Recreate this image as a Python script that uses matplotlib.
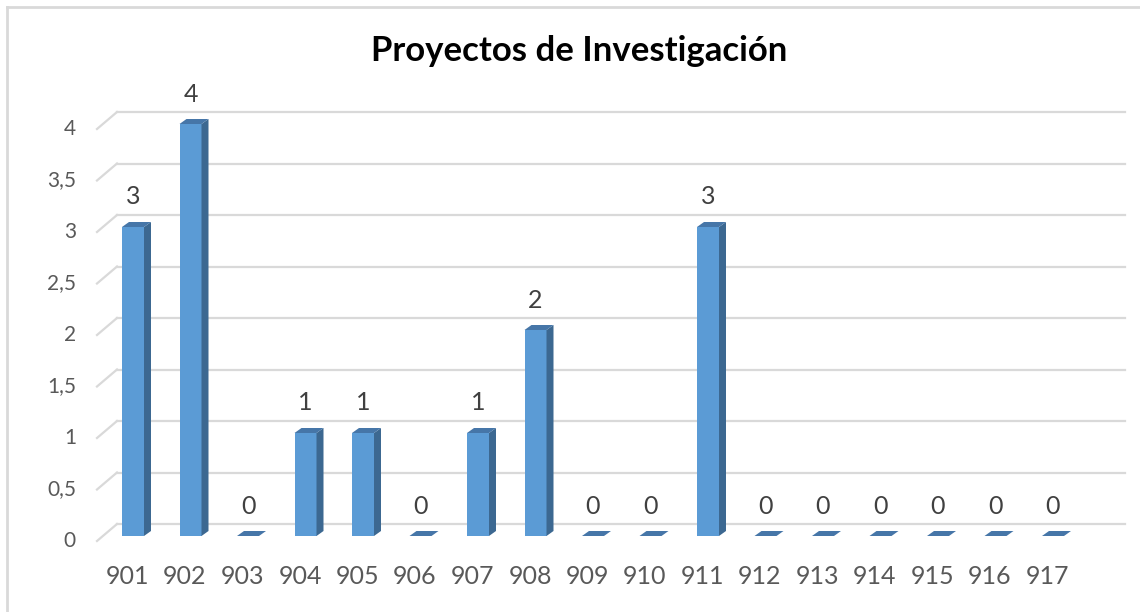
import matplotlib
matplotlib.use("Agg")
import matplotlib.pyplot as plt
from matplotlib.patches import Polygon
from matplotlib.lines import Line2D
import numpy as np

# Data
groups = ["901", "902", "903", "904", "905", "906", "907", "908", "909",
          "910", "911", "912", "913", "914", "915", "916", "917"]
projects = [3, 4, 0, 1, 1, 0, 1, 2, 0, 0, 3, 0, 0, 0, 0, 0, 0]
y_ticks = [0, 0.5, 1, 1.5, 2, 2.5, 3, 3.5, 4]
y_tick_labels = ["0", "0,5", "1", "1,5", "2", "2,5", "3", "3,5", "4"]
title = "Proyectos de Investigación"

W, H = 1140, 612
fig = plt.figure(figsize=(W / 100, H / 100), dpi=100)
fig.patch.set_facecolor("white")

# Plot area (front plane of the columns), in pixels
left_px, right_px, top_px, base_px = 102, 1110, 100, 536
step_px, unit_px = 57.5, 103.0
first_px = 133.0

ax = fig.add_axes([left_px / W, (H - base_px) / H,
                   (right_px - left_px) / W, (base_px - top_px) / H])
ax.set_xlim((left_px - first_px) / step_px, (right_px - first_px) / step_px)
ax.set_ylim(0, (base_px - top_px) / unit_px)
ax.axis("off")

px = 1 / step_px   # one pixel in x data units
py = 1 / unit_px   # one pixel in y data units
xl, xr = ax.get_xlim()

grid_c = "#D9D9D9"
text_c = "#595959"
front_c = "#5B9BD5"
side_c = "#3C6891"
top_c = "#4676A8"

# Back wall gridlines and the floor/wall diagonals
for v, lab in zip(y_ticks, y_tick_labels):
    ax.add_line(Line2D([xl + 15 * px, xr + 15 * px], [v + 12 * py, v + 12 * py],
                       color=grid_c, lw=1.6, clip_on=False, zorder=1))
    ax.add_line(Line2D([xl - 5 * px, xl + 15 * px], [v - 5 * py, v + 12 * py],
                       color=grid_c, lw=1.6, clip_on=False, zorder=1))
    ax.text(xl - 26 * px, v - 5 * py, lab, ha="right", va="center",
            fontsize=15, color=text_c, family="Lato", clip_on=False)

# 3D-looking columns
width = 22 / step_px
dx, dy = 7 * px, 5 * py
x = np.arange(len(groups))
ax.bar(x, projects, width=width, color=front_c, zorder=3)
for xi, v in zip(x, projects):
    l, r = xi - width / 2, xi + width / 2
    if v > 0:
        ax.add_patch(Polygon([(r, 0), (r + dx, dy), (r + dx, v + dy), (r, v)],
                             closed=True, facecolor=side_c, edgecolor="none",
                             zorder=3, clip_on=False))
    ax.add_patch(Polygon([(l, v), (l + dx, v + dy), (r + dx, v + dy), (r, v)],
                         closed=True, facecolor=top_c, edgecolor="none",
                         zorder=3, clip_on=False))
    ax.text(xi, v + 30 * py, str(v), ha="center", va="center",
            fontsize=18, color="#404040", family="Lato", clip_on=False)

# Category labels
for xi, g in zip(x, groups):
    ax.text(xi - 5.5 * px, -41 * py, g, ha="center", va="center",
            fontsize=18, color=text_c, family="Lato", clip_on=False)

fig.text(579 / W, 1 - 51 / H, title, ha="center", va="center",
         fontsize=25, fontweight="bold", color="#000000", family="Lato")

# Chart frame
fig.add_artist(Line2D([7 / W, 1], [1 - 7 / H, 1 - 7 / H], color="#D9D9D9",
                      lw=2, transform=fig.transFigure))
fig.add_artist(Line2D([7 / W, 7 / W], [0, 1 - 7 / H], color="#D9D9D9",
                      lw=2, transform=fig.transFigure))

fig.savefig("out.png", dpi=100)
